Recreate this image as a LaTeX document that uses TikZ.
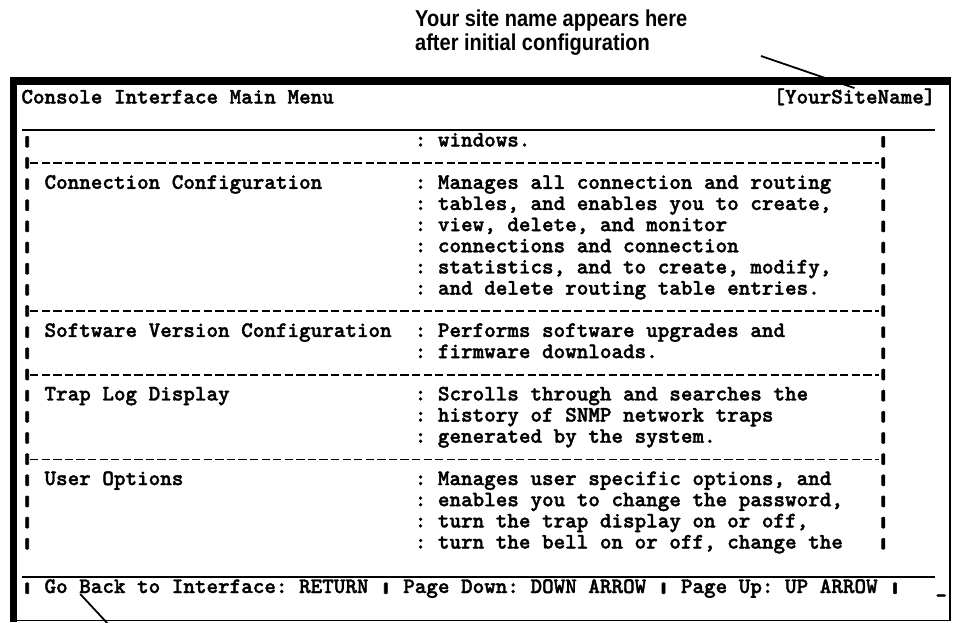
\documentclass[tikz,border=0pt]{standalone}
\usepackage{fontspec}
\newfontfamily\notefont{Liberation Sans}[FakeStretch=0.87]
\newfontfamily\termfont{lmmonolt10-bold}[Extension=.otf, FakeBold=1.6]
\usetikzlibrary{calc}
\tikzset{
    term/.style={font=\termfont\fontsize{22.04}{22}\selectfont\frenchspacing, inner sep=0pt, anchor=base west},
    note/.style={font=\notefont\fontsize{23}{24}\selectfont\bfseries, inner sep=0pt, align=left, anchor=north west},
    pointer/.style={line width=1.8pt},
    rule/.style={line width=1.5pt},
    sepline/.style={line width=1.8pt, dash pattern=on 8.3pt off 3.27pt},
}
% character cell and text row of the console screen
\newcommand{\cx}[1]{21.2 + 11.57*#1}
\newcommand{\ry}[1]{146.5 + 21.16*#1}
% short heavy bar as the console font draws it
\newcommand{\vb}{\makebox[0.525em]{\raisebox{-1pt}{\scalebox{2.5}[1]{\resizebox*{!}{11.5pt}{\raisebox{\depth}{|}}}}}}

\begin{document}
\begin{tikzpicture}[x=1pt, y=-1pt]
    \useasboundingbox (0, 0) rectangle (953, 622);

    % window frame
    \fill (10, 77) rectangle (951, 84);
    \fill (10, 77) rectangle (17, 622);
    \draw[line width=1.5pt] (17, 84) -- (950, 84) -- (950, 620.5) -- (17, 620.5);

    \node[term] (title) at ({\cx{0}}, 103.5) {Console Interface Main Menu};
    \node[term] (siteName) at ({\cx{65}}, 103.5) {[YourSiteName]};
    \draw[rule] (22, 130) -- (935, 130);

    % side bars of the menu table
    \foreach \i in {0,2,3,...,7,9,10,12,13,14,16,17,...,19} {
        \node[term] (barL\i) at ({\cx{0}}, {\ry{\i}}) {\vb};
        \node[term] (barR\i) at ({\cx{74}}, {\ry{\i}}) {\vb};
    }
    \foreach \i in {1,8,11,15} {
        \node[term] (sepL\i) at ({\cx{0}}, {\ry{\i}}) {\vb};
        \node[term] (sepR\i) at ({\cx{74}}, {\ry{\i}}) {\vb};
        \draw[sepline] ($(sepL\i.base east)+(-3,-4.5)$) -- ($(sepR\i.base west)+(2,-4.5)$);
    }

    \node[term] (itemConn) at ({\cx{2}}, {\ry{2}}) {Connection Configuration};
    \node[term] (itemSoft) at ({\cx{2}}, {\ry{9}}) {Software Version Configuration};
    \node[term] (itemTrap) at ({\cx{2}}, {\ry{12}}) {Trap Log Display};
    \node[term] (itemUser) at ({\cx{2}}, {\ry{16}}) {User Options};

    \node[term] (desc0) at ({\cx{34}}, {\ry{0}}) {: windows.};
    \node[term] (desc2) at ({\cx{34}}, {\ry{2}}) {: Manages all connection and routing};
    \node[term] (desc3) at ({\cx{34}}, {\ry{3}}) {: tables, and enables you to create,};
    \node[term] (desc4) at ({\cx{34}}, {\ry{4}}) {: view, delete, and monitor};
    \node[term] (desc5) at ({\cx{34}}, {\ry{5}}) {: connections and connection};
    \node[term] (desc6) at ({\cx{34}}, {\ry{6}}) {: statistics, and to create, modify,};
    \node[term] (desc7) at ({\cx{34}}, {\ry{7}}) {: and delete routing table entries.};
    \node[term] (desc9) at ({\cx{34}}, {\ry{9}}) {: Performs software upgrades and};
    \node[term] (desc10) at ({\cx{34}}, {\ry{10}}) {: firmware downloads.};
    \node[term] (desc12) at ({\cx{34}}, {\ry{12}}) {: Scrolls through and searches the};
    \node[term] (desc13) at ({\cx{34}}, {\ry{13}}) {: history of SNMP network traps};
    \node[term] (desc14) at ({\cx{34}}, {\ry{14}}) {: generated by the system.};
    \node[term] (desc16) at ({\cx{34}}, {\ry{16}}) {: Manages user specific options, and};
    \node[term] (desc17) at ({\cx{34}}, {\ry{17}}) {: enables you to change the password,};
    \node[term] (desc18) at ({\cx{34}}, {\ry{18}}) {: turn the trap display on or off,};
    \node[term] (desc19) at ({\cx{34}}, {\ry{19}}) {: turn the bell on or off, change the};

    \draw[rule] (22, 577) -- (935, 577);
    \node[term] (keys) at ({\cx{0}}, 593) {\vb{} Go Back to Interface: RETURN \vb{} Page Down: DOWN ARROW \vb{} Page Up: UP ARROW \vb};
    \node[term] (cursor) at ({\cx{79}}, 593) {\_};

    % callouts
    \node[note] (siteNote) at (415, 10) {Your site name appears here\\after initial configuration};
    \coordinate (noteFoot) at (761, 56);
    \draw[pointer] (noteFoot) -- (siteName.north);
    \coordinate (keysFoot) at (109, 625);
    \draw[pointer] ($(keys.base west)+(59,1)$) -- (keysFoot);
\end{tikzpicture}
\end{document}
